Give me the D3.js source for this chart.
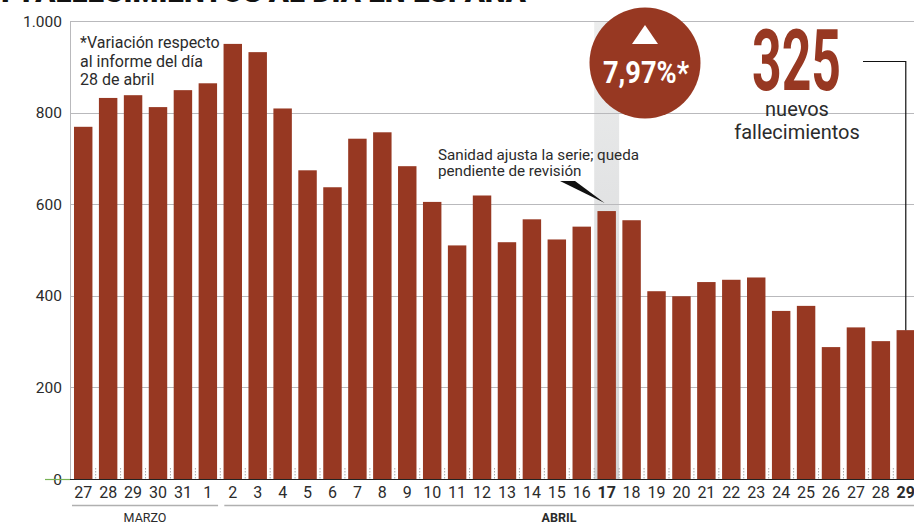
<!DOCTYPE html>
<html>
<head>
<meta charset="utf-8">
<script src="https://cdn.jsdelivr.net/npm/d3@7"></script>
<style>
  body { margin: 0; background: #fff; }
  svg { display: block; font-family: Roboto, "Noto Sans", sans-serif; }
</style>
</head>
<body>
<div id="chart"></div>
<script>
// Fallecimientos diarios, 27 marzo - 29 abril
const days = ['27', '28', '29', '30', '31', '1', '2', '3', '4', '5', '6', '7', '8', '9', '10',
  '11', '12', '13', '14', '15', '16', '17', '18', '19', '20', '21', '22', '23', '24', '25',
  '26', '27', '28', '29'];
const deaths = [769, 832, 838, 812, 849, 864, 950, 932, 809, 674, 637, 743, 757, 683, 605,
  510, 619, 517, 567, 523, 551, 585, 565, 410, 399, 430, 435, 440, 367, 378,
  288, 331, 301, 325];
// month brackets as drawn in the original (first bracket also spans 1 de abril)
const monthNames = ['MARZO', 'ABRIL'];
const monthFirst = [0, 6];
const monthLast = [5, 33];
const yTicks = [0, 200, 400, 600, 800, 1000];
const boldDays = [21, 33]; // indices: 17 y 29 de abril
const highlightIdx = 21;
const lastIdx = deaths.length - 1;

const width = 914, height = 522;
const margin = { top: 21, right: -4, bottom: 43, left: 71 };
const barColor = '#973822';
const textColor = '#2b2b2b';

const svg = d3.select('#chart').append('svg')
  .attr('width', width).attr('height', height);

const keys = d3.range(deaths.length);
const x = d3.scaleBand()
  .domain(keys)
  .range([margin.left, width - margin.right])
  .paddingInner(0.26)
  .paddingOuter(0.12);

const y = d3.scaleLinear()
  .domain([0, 1000])
  .range([height - margin.bottom, margin.top]);

// title fragment cut at the top of the picture
svg.append('text')
  .attr('x', -4).attr('y', 2)
  .attr('font-size', 27).attr('font-weight', 900)
  .attr('fill', '#111')
  .attr('textLength', 530).attr('lengthAdjust', 'spacingAndGlyphs')
  .text('Y FALLECIMIENTOS AL DÍA EN ESPAÑA');

// highlight band for 17 de abril
const defs = svg.append('defs');
const grad = defs.append('linearGradient')
  .attr('id', 'hl').attr('x1', 0).attr('x2', 0).attr('y1', 0).attr('y2', 1);
grad.append('stop').attr('offset', '0%').attr('stop-color', '#eceded');
grad.append('stop').attr('offset', '100%').attr('stop-color', '#d2d3d5');

const bandPad = x.step() * x.paddingInner() / 2;
svg.append('rect')
  .attr('x', x(highlightIdx) - bandPad)
  .attr('width', x.bandwidth() + bandPad * 2)
  .attr('y', y(1000))
  .attr('height', y(0) - y(1000))
  .attr('fill', 'url(#hl)');

// gridlines
svg.append('g')
  .selectAll('line')
  .data(yTicks.filter(d => d > 0))
  .join('line')
  .attr('x1', margin.left - 1).attr('x2', width)
  .attr('y1', d => Math.round(y(d)) + 0.5).attr('y2', d => Math.round(y(d)) + 0.5)
  .attr('stroke', '#b9b9bc').attr('stroke-width', 1);

// left axis line
svg.append('line')
  .attr('x1', margin.left - 0.5).attr('x2', margin.left - 0.5)
  .attr('y1', y(1000)).attr('y2', y(0))
  .attr('stroke', '#b9b9bc');

// y tick labels
svg.append('g')
  .selectAll('text')
  .data(yTicks)
  .join('text')
  .attr('x', 62)
  .attr('y', d => y(d))
  .attr('dy', '0.36em')
  .attr('text-anchor', 'end')
  .attr('font-size', 15.5)
  .attr('fill', textColor)
  .text(d => d3.format(',')(d).replace(',', '.'));

// dotted separators between bars
svg.append('g')
  .selectAll('line')
  .data(keys.slice(1))
  .join('line')
  .attr('x1', d => x(d) - bandPad).attr('x2', d => x(d) - bandPad)
  .attr('y1', y(0) - 11).attr('y2', y(0))
  .attr('stroke', '#aaa').attr('stroke-dasharray', '1.5,1.5');

// bars
svg.append('g')
  .selectAll('rect')
  .data(keys)
  .join('rect')
  .attr('x', d => x(d))
  .attr('width', x.bandwidth())
  .attr('y', d => y(deaths[d]))
  .attr('height', d => y(0) - y(deaths[d]))
  .attr('fill', barColor);

// baseline
svg.append('line')
  .attr('x1', margin.left - 1).attr('x2', width)
  .attr('y1', y(0) + 0.5).attr('y2', y(0) + 0.5)
  .attr('stroke', '#222').attr('stroke-width', 1.2);
svg.append('line')
  .attr('x1', 45).attr('x2', margin.left - 1)
  .attr('y1', y(0) + 0.5).attr('y2', y(0) + 0.5)
  .attr('stroke', '#77b255').attr('stroke-width', 1.2);

// x labels
svg.append('g')
  .selectAll('text')
  .data(keys)
  .join('text')
  .attr('x', d => x(d) + x.bandwidth() / 2)
  .attr('y', 498)
  .attr('text-anchor', 'middle')
  .attr('font-size', 16)
  .attr('font-weight', d => boldDays.includes(d) ? 700 : 400)
  .attr('fill', textColor)
  .text(d => days[d]);

// month brackets
monthNames.forEach((name, i) => {
  const x0 = x(monthFirst[i]) - (i === 0 ? 2 : bandPad - 4);
  const x1 = i === monthNames.length - 1 ? width : x(monthLast[i]) + x.bandwidth() + 1;
  svg.append('line')
    .attr('x1', x0).attr('x2', x1)
    .attr('y1', 505.5).attr('y2', 505.5)
    .attr('stroke', '#b0b0b0').attr('stroke-width', 1.3);
  const cx = i === 0 ? (x0 + x1) / 2 : 559;
  svg.append('text')
    .attr('x', cx).attr('y', 522)
    .attr('text-anchor', 'middle')
    .attr('font-size', 12.5)
    .attr('font-weight', i === 1 ? 700 : 400)
    .attr('fill', textColor)
    .text(name);
});

// note top-left
const note = svg.append('text')
  .attr('font-size', 16).attr('fill', textColor);
['*Variación respecto', 'al informe del día', '28 de abril'].forEach((t, i) => {
  note.append('tspan').attr('x', 80).attr('y', 48 + i * 18.5).text(t);
});

// annotation for 17 de abril
const ann = svg.append('text')
  .attr('font-size', 15.2).attr('fill', textColor);
['Sanidad ajusta la serie; queda', 'pendiente de revisión'].forEach((t, i) => {
  ann.append('tspan').attr('x', 438).attr('y', 160 + i * 16).text(t);
});
const tipX = x(highlightIdx) + x.bandwidth() / 2 - 2;
const tipY = y(deaths[highlightIdx]) - 8;
svg.append('path')
  .attr('d', `M560,181 L575,181 L${tipX},${tipY} Z`)
  .attr('fill', '#111');

// circle badge
const cxB = 645, cyB = 63;
svg.append('circle')
  .attr('cx', cxB).attr('cy', cyB).attr('r', 55.5)
  .attr('fill', barColor);
svg.append('path')
  .attr('d', `M${cxB - 13},${cyB - 19} L${cxB + 13},${cyB - 19} L${cxB},${cyB - 38} Z`)
  .attr('fill', '#fff');
svg.append('text')
  .attr('x', cxB + 1).attr('y', cyB + 20)
  .attr('text-anchor', 'middle')
  .attr('font-size', 31).attr('font-weight', 700)
  .attr('fill', '#fff')
  .attr('textLength', 86).attr('lengthAdjust', 'spacingAndGlyphs')
  .text('7,97%*');

// big number
svg.append('text')
  .attr('x', 752).attr('y', 90)
  .attr('font-size', 86).attr('font-weight', 700)
  .attr('fill', barColor)
  .attr('textLength', 89).attr('lengthAdjust', 'spacingAndGlyphs')
  .text(String(deaths[lastIdx]));
const sub = svg.append('text')
  .attr('text-anchor', 'middle')
  .attr('font-size', 20).attr('fill', textColor);
['nuevos', 'fallecimientos'].forEach((t, i) => {
  sub.append('tspan').attr('x', 797).attr('y', 116 + i * 23).text(t);
});

// leader line to last bar
const lx = x(lastIdx) + x.bandwidth() / 2;
svg.append('path')
  .attr('d', `M863,61.5 H${lx} V${y(deaths[lastIdx])}`)
  .attr('fill', 'none').attr('stroke', '#111').attr('stroke-width', 1.2);
</script>
</body>
</html>
